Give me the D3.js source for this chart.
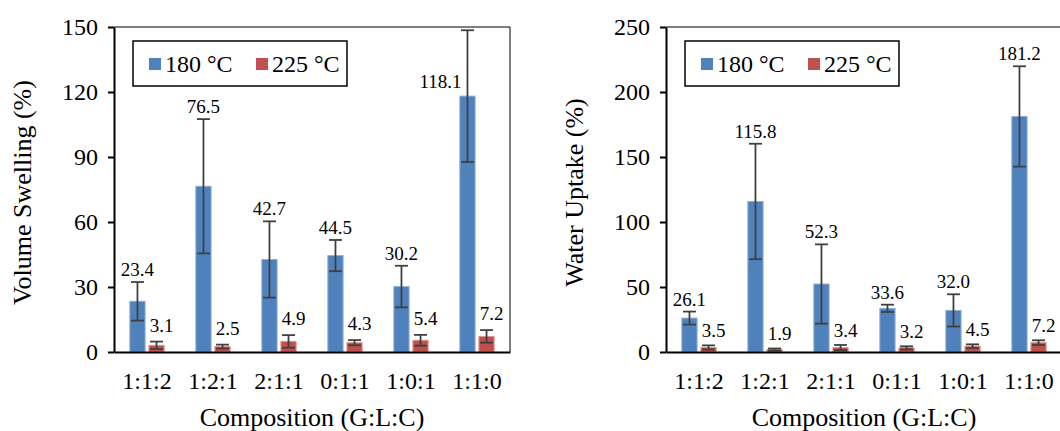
<!DOCTYPE html>
<html>
<head>
<meta charset="utf-8">
<script src="https://cdn.jsdelivr.net/npm/d3@7"></script>
<style>
body { margin: 0; background: #fff; }
text { font-family: "Liberation Serif", "Times New Roman", serif; fill: #000; }
</style>
</head>
<body>
<svg id="svg" width="1060" height="431"></svg>
<script>
// data
var categories = ["1:1:2", "1:2:1", "2:1:1", "0:1:1", "1:0:1", "1:1:0"];
var seriesNames = ["180 °C", "225 °C"];

var swell180 = [23.4, 76.5, 42.7, 44.5, 30.2, 118.1];
var swell225 = [3.1, 2.5, 4.9, 4.3, 5.4, 7.2];
var swellErr180 = [8.9, 31.0, 17.6, 7.2, 9.6, 30.4];
var swellErr225 = [1.7, 0.9, 2.9, 1.2, 2.5, 2.9];
var swellTicks = [0, 30, 60, 90, 120, 150];

var water180 = [26.1, 115.8, 52.3, 33.6, 32.0, 181.2];
var water225 = [3.5, 1.9, 3.4, 3.2, 4.5, 7.2];
var waterErr180 = [5.0, 44.4, 30.5, 2.8, 12.4, 38.6];
var waterErr225 = [1.6, 0.8, 2.0, 1.2, 1.4, 1.8];
var waterTicks = [0, 50, 100, 150, 200, 250];

var colors = ["#4F81BD", "#C0504D"];
var strokes = ["#8FB0DA", "#E09896"];

var svg = d3.select("#svg");

var drawPanel = function(p) {
    var g = svg.append("g");
    var x = d3.scaleBand().domain(categories).range([p.x0, p.x1]);
    var xs = d3.scaleBand().domain([0, 1])
        .range([x.bandwidth() * 0.24, x.bandwidth() * 0.76]).paddingInner(0.2);
    var y = d3.scaleLinear().domain([0, d3.max(p.ticks)]).range([p.yZero, p.yTop]);

    // plot frame (top + right thin lines)
    g.append("path")
        .attr("d", "M" + p.x0 + "," + p.yTop + "H" + p.x1 + "V" + p.yZero)
        .attr("fill", "none").attr("stroke", "#000").attr("stroke-width", 1);

    // rows: one per bar
    var rows = [];
    for (var s = 0; s < 2; s++) {
        for (var i = 0; i < categories.length; i++) {
            rows.push({ s: s, cat: categories[i], v: p.vals[s][i], e: p.errs[s][i] });
        }
    }

    g.selectAll("rect.bar").data(rows).enter().append("rect")
        .attr("class", "bar")
        .attr("x", function(d) { return x(d.cat) + xs(d.s); })
        .attr("width", xs.bandwidth())
        .attr("y", function(d) { return y(d.v); })
        .attr("height", function(d) { return y(0) - y(d.v); })
        .attr("fill", function(d) { return colors[d.s]; })
        .attr("stroke", function(d) { return strokes[d.s]; })
        .attr("stroke-width", 1);

    var cx = function(d) { return x(d.cat) + xs(d.s) + xs.bandwidth() / 2; };
    var err = g.selectAll("g.err").data(rows).enter().append("g")
        .attr("stroke", "#404040").attr("stroke-width", 1.8);
    err.append("line")
        .attr("x1", cx).attr("x2", cx)
        .attr("y1", function(d) { return y(d.v + d.e); })
        .attr("y2", function(d) { return y(Math.max(0, d.v - d.e)); });
    err.append("line")
        .attr("x1", function(d) { return cx(d) - 6.5; })
        .attr("x2", function(d) { return cx(d) + 6.5; })
        .attr("y1", function(d) { return y(d.v + d.e); })
        .attr("y2", function(d) { return y(d.v + d.e); });
    err.append("line")
        .attr("x1", function(d) { return cx(d) - 6.5; })
        .attr("x2", function(d) { return cx(d) + 6.5; })
        .attr("y1", function(d) { return y(Math.max(0, d.v - d.e)); })
        .attr("y2", function(d) { return y(Math.max(0, d.v - d.e)); });

    // value labels (moved beside the error bar when there is no room above)
    var noRoom = function(d) { return y(d.v + d.e) - 20 < p.yTop; };
    g.selectAll("text.val").data(rows).enter().append("text")
        .attr("class", "val")
        .attr("font-size", 19)
        .attr("text-anchor", function(d) { return noRoom(d) ? "end" : "middle"; })
        .attr("x", function(d) {
            if (noRoom(d)) return cx(d) - 6;
            return cx(d) + (d.s === 1 ? 5 : 0);
        })
        .attr("y", function(d) {
            if (noRoom(d)) return y(d.v) - 8;
            return y(d.v + d.e) - (d.s === 1 ? p.redGap : 6);
        })
        .text(function(d) { return d.v.toFixed(1); });

    // y axis
    var ya = g.append("g").attr("transform", "translate(" + p.x0 + ",0)")
        .call(d3.axisLeft(y).tickValues(p.ticks).tickSize(6).tickSizeOuter(0).tickPadding(10));
    ya.select(".domain").attr("stroke", "#000").attr("stroke-width", 2);
    ya.selectAll(".tick line").attr("stroke", "#000").attr("stroke-width", 2);
    ya.selectAll(".tick text").attr("font-size", 24)
        .attr("font-family", "Liberation Serif, Times New Roman, serif").attr("fill", "#000");

    // x axis
    var xa = g.append("g").attr("transform", "translate(0," + p.yZero + ")")
        .call(d3.axisBottom(x).tickSize(0).tickSizeOuter(0).tickPadding(20));
    xa.select(".domain").attr("stroke", "#000").attr("stroke-width", 2);
    xa.selectAll(".tick text").attr("font-size", 24)
        .attr("font-family", "Liberation Serif, Times New Roman, serif").attr("fill", "#000");

    // axis titles
    g.append("text")
        .attr("x", (p.x0 + p.x1) / 2).attr("y", 426)
        .attr("text-anchor", "middle").attr("font-size", 26)
        .text("Composition (G:L:C)");
    g.append("text")
        .attr("transform", "translate(" + (p.x0 - 83) + "," + ((p.yTop + p.yZero) / 2 + 3) + ") rotate(-90)")
        .attr("text-anchor", "middle").attr("font-size", 26)
        .text(p.title);

    // legend
    var lx = p.x0 + 19, ly = 41;
    var lg = g.append("g").attr("transform", "translate(" + lx + "," + ly + ")");
    lg.append("rect").attr("width", 214).attr("height", 45)
        .attr("fill", "#fff").attr("stroke", "#000").attr("stroke-width", 1.5);
    var items = lg.selectAll("g.item").data(seriesNames).enter().append("g")
        .attr("transform", function(d, i) { return "translate(" + (16 + i * 107) + ",0)"; });
    items.append("rect").attr("y", 17).attr("width", 12).attr("height", 12)
        .attr("fill", function(d, i) { return colors[i]; });
    items.append("text").attr("x", 16).attr("y", 31).attr("font-size", 24)
        .text(function(d) { return d; });
};

drawPanel({
    x0: 114, x1: 510, yTop: 27, yZero: 352,
    vals: [swell180, swell225], errs: [swellErr180, swellErr225],
    ticks: swellTicks, title: "Volume Swelling (%)", redGap: 10
});
drawPanel({
    x0: 666, x1: 1062, yTop: 27, yZero: 352,
    vals: [water180, water225], errs: [waterErr180, waterErr225],
    ticks: waterTicks, title: "Water Uptake (%)", redGap: 8
});
</script>
</body>
</html>
